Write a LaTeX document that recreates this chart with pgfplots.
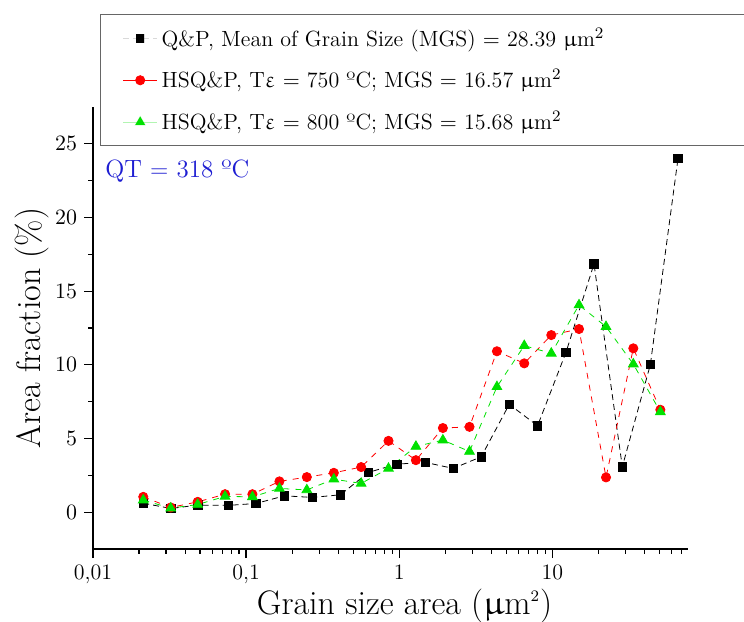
\documentclass[border=0pt]{standalone}
\usepackage{pgfplots}
\pgfplotsset{compat=1.18}
\usepackage{upgreek}

\definecolor{qpgreen}{RGB}{0,225,0}
\definecolor{qtblue}{RGB}{30,30,210}

\begin{document}
\begin{tikzpicture}
\begin{axis}[
at={(0,0)}, anchor=south west,
scale only axis,
width=297.5pt, height=221pt,
xmode=log,
xmin=0.01, xmax=77,
ymin=-2.5, ymax=27.5,
axis x line*=bottom, axis y line*=left,
axis line style={line width=0.8pt},
tick align=outside,
major tick length=4.5pt, minor tick length=2.3pt,
every tick/.style={black, line width=0.6pt},
xtick={0.01,0.1,1,10},
xticklabels={{0,01},{0,1},1,10},
minor xtick={0.02,0.03,0.04,0.05,0.06,0.07,0.08,0.09,
  0.2,0.3,0.4,0.5,0.6,0.7,0.8,0.9,2,3,4,5,6,7,8,9,20,30,40,50,60,70},
ytick={0,5,10,15,20,25},
minor y tick num=1,
x tick label style={font=\fontsize{11}{13}\selectfont},
y tick label style={font=\fontsize{10.5}{12}\selectfont},
xlabel={Grain size area ($\upmu$m$^{\scriptscriptstyle 2}$)},
ylabel={Area fraction (\%)},
label style={font=\fontsize{17}{20}\selectfont},
xlabel style={xshift=7pt, yshift=4.5pt},
ylabel style={yshift=-4pt},
legend cell align=left,
legend style={at={(0.012,1.21)}, anchor=north west,
  font=\fontsize{11}{13}\selectfont, draw=black!60, line width=0.6pt,
  row sep=6.3pt, inner ysep=4.5pt, inner xsep=11pt},
every axis plot/.append style={line width=0.4pt},
]
\addplot[black, densely dashed, mark=square*, mark size=2.1pt, mark options={solid},
  legend image post style={draw opacity=0.15}] coordinates {
(0.0213,0.61) (0.0322,0.25) (0.0483,0.48) (0.0766,0.46) (0.1162,0.59)
(0.178,1.11) (0.2713,1.00) (0.4134,1.18) (0.6298,2.70) (0.966,3.26)
(1.479,3.38) (2.254,2.97) (3.435,3.76) (5.236,7.32) (8.014,5.86)
(12.29,10.85) (18.73,16.85) (28.67,3.08) (43.70,10.01) (66.31,24.03)
};
\addlegendentry{\makebox[330pt][l]{Q\&P, Mean of Grain Size (MGS) $=$ 28.39 $\upmu$m$^2$}}
\addplot[red, dashed, mark=*, mark size=2.3pt, mark options={solid},
  legend image post style={solid}] coordinates {
(0.0213,1.04) (0.0322,0.32) (0.0483,0.70) (0.0729,1.22) (0.1100,1.22)
(0.1651,2.09) (0.2493,2.38) (0.3743,2.67) (0.5645,3.06) (0.8514,4.84)
(1.286,3.53) (1.930,5.71) (2.880,5.79) (4.350,10.92) (6.561,10.10)
(9.851,12.02) (14.95,12.43) (22.44,2.36) (33.83,11.12) (50.80,6.95)
};
\addlegendentry{HSQ\&P, T$\upvarepsilon$ $=$ 750 ºC; MGS $=$ 16.57 $\upmu$m$^2$}
\addplot[qpgreen, dashed, mark=triangle*, mark size=2.8pt, mark options={solid},
  legend image post style={solid, draw opacity=0.3}] coordinates {
(0.0213,0.82) (0.0322,0.27) (0.0483,0.52) (0.0729,1.07) (0.1100,1.04)
(0.1651,1.61) (0.2493,1.51) (0.3743,2.24) (0.5645,1.95) (0.8514,2.97)
(1.286,4.46) (1.930,4.89) (2.880,4.12) (4.350,8.51) (6.561,11.30)
(9.851,10.78) (14.95,14.06) (22.44,12.59) (33.83,10.05) (50.80,6.81)
};
\addlegendentry{HSQ\&P, T$\upvarepsilon$ $=$ 800 ºC; MGS $=$ 15.68 $\upmu$m$^2$}
\node[anchor=west, text=qtblue, font=\fontsize{12.5}{15}\selectfont, inner sep=0pt]
  at (rel axis cs:0.02,0.855) {QT $=$ 318 ºC};
\end{axis}
\pgfresetboundingbox
\path[use as bounding box] (-46.5pt,-36pt) rectangle (325.5pt,274.5pt);
\end{tikzpicture}
\end{document}
